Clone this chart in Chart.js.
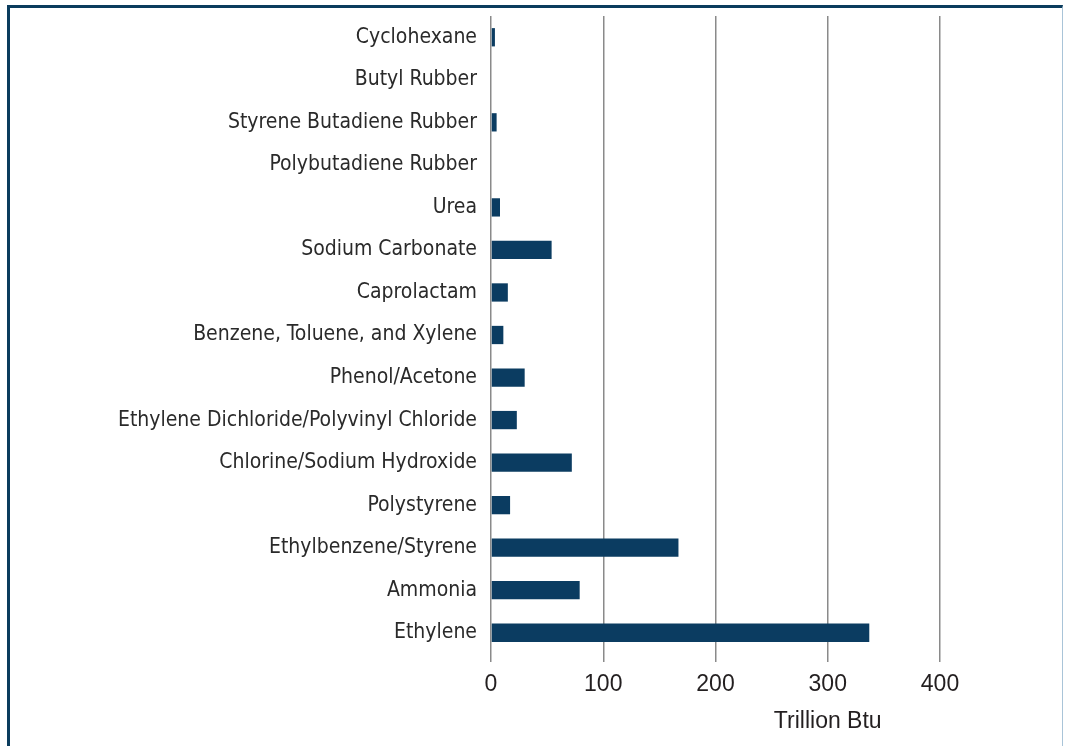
<!DOCTYPE html>
<html>
<head>
<meta charset="utf-8">
<script src="https://cdn.jsdelivr.net/npm/chart.js@4/dist/chart.umd.min.js"></script>
<style>
  body { margin: 0; background: #fff; overflow: hidden; }
  #wrap { position: relative; width: 1065px; height: 746px; }
  #frame {
    position: absolute; left: 7px; top: 5px; width: 1052px; height: 760px;
    border-left: 3px solid #0b3c5d; border-top: 3px solid #0b3c5d;
    border-right: 1px solid #a9c4d8; pointer-events: none;
  }
</style>
</head>
<body>
<div id="wrap">
  <canvas id="chart" width="1065" height="746"></canvas>
  <div id="frame"></div>
</div>
<script>
// Chemicals, top to bottom as shown
const products = [
  'Cyclohexane', 'Butyl Rubber', 'Styrene Butadiene Rubber', 'Polybutadiene Rubber',
  'Urea', 'Sodium Carbonate', 'Caprolactam', 'Benzene, Toluene, and Xylene',
  'Phenol/Acetone', 'Ethylene Dichloride/Polyvinyl Chloride', 'Chlorine/Sodium Hydroxide',
  'Polystyrene', 'Ethylbenzene/Styrene', 'Ammonia', 'Ethylene'
];
// Energy use, trillion Btu
const energyUse = [3.5, 0, 5, 0, 8, 54, 15, 11, 30, 23, 72, 17, 167, 79, 337];
const xTicks = [0, 100, 200, 300, 400];
const xTitle = 'Trillion Btu';

const narrow = '"Liberation Sans Narrow", "Arial Narrow", "DejaVu Sans Condensed", sans-serif';
const regular = '"Liberation Sans", Arial, sans-serif';

// axis title sits under the 300 tick, like the original
const unitLabel = {
  id: 'unitLabel',
  afterDraw(chart) {
    const x = chart.scales.x;
    const ctx = chart.ctx;
    ctx.save();
    ctx.font = '23px ' + regular;
    ctx.fillStyle = '#231f20';
    ctx.textAlign = 'center';
    ctx.textBaseline = 'middle';
    ctx.fillText(xTitle, x.getPixelForValue(300), x.bottom - 24);
    ctx.restore();
  }
};

new Chart(document.getElementById('chart'), {
  type: 'bar',
  data: {
    labels: products,
    datasets: [{
      data: energyUse,
      backgroundColor: '#0b3c61',
      barPercentage: 0.43,
      categoryPercentage: 1
    }]
  },
  options: {
    indexAxis: 'y',
    responsive: false,
    animation: false,
    layout: { padding: { top: 16, right: 125, left: 0, bottom: 0 } },
    plugins: { legend: { display: false }, tooltip: { enabled: false } },
    scales: {
      x: {
        min: 0, max: 400,
        afterBuildTicks(scale) { scale.ticks = xTicks.map(v => ({ value: v })); },
        afterFit(scale) { scale.height = 92; },
        grid: { color: '#8a8a8a', lineWidth: 1.5, tickLength: 8, drawTicks: true },
        border: { display: false },
        ticks: { color: '#231f20', font: { family: regular, size: 23 }, padding: 9 }
      },
      y: {
        afterFit(scale) {
          scale.width = 491;
          scale.paddingTop = 0;
          scale.paddingBottom = 0;
        },
        grid: { display: false, drawTicks: false },
        border: { display: false },
        ticks: { color: '#2a2a2a', font: { family: narrow, size: 21 }, padding: 14, autoSkip: false }
      }
    }
  },
  plugins: [unitLabel]
});
</script>
</body>
</html>
